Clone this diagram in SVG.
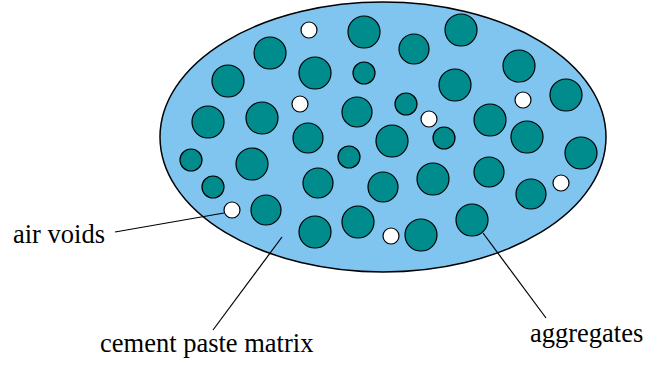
<svg xmlns="http://www.w3.org/2000/svg" width="645" height="365" viewBox="0 0 645 365">
<style>
.agg{fill:#008c8c;stroke:#000;stroke-width:1.2}
.void{fill:#fff;stroke:#000;stroke-width:1.2}
.lead{stroke:#000;stroke-width:1.2;fill:none}
</style>
<g id="matrix">
<ellipse cx="383" cy="137" rx="223" ry="135" fill="#80c4f0" stroke="#000" stroke-width="1.5"/>
</g>
<g id="aggregates">
<circle class="agg" cx="364" cy="32" r="16"/>
<circle class="agg" cx="461" cy="30" r="16"/>
<circle class="agg" cx="270" cy="53" r="16"/>
<circle class="agg" cx="414" cy="49" r="15"/>
<circle class="agg" cx="519" cy="66" r="16"/>
<circle class="agg" cx="228" cy="81" r="16"/>
<circle class="agg" cx="315" cy="73" r="16"/>
<circle class="agg" cx="364" cy="73" r="11"/>
<circle class="agg" cx="455" cy="85" r="16"/>
<circle class="agg" cx="566" cy="95" r="16"/>
<circle class="agg" cx="208" cy="122" r="16"/>
<circle class="agg" cx="262" cy="118" r="16"/>
<circle class="agg" cx="357" cy="112" r="15"/>
<circle class="agg" cx="406" cy="104" r="11"/>
<circle class="agg" cx="490" cy="120" r="16"/>
<circle class="agg" cx="308" cy="138" r="15"/>
<circle class="agg" cx="392" cy="141" r="16"/>
<circle class="agg" cx="444" cy="138" r="11"/>
<circle class="agg" cx="527" cy="137" r="16"/>
<circle class="agg" cx="581" cy="153" r="16"/>
<circle class="agg" cx="191" cy="160" r="11"/>
<circle class="agg" cx="252" cy="164" r="16"/>
<circle class="agg" cx="349" cy="157" r="11"/>
<circle class="agg" cx="433" cy="179" r="16"/>
<circle class="agg" cx="489" cy="172" r="15"/>
<circle class="agg" cx="213" cy="187" r="11"/>
<circle class="agg" cx="318" cy="183" r="15"/>
<circle class="agg" cx="383" cy="187" r="15"/>
<circle class="agg" cx="531" cy="194" r="15"/>
<circle class="agg" cx="266" cy="210" r="15"/>
<circle class="agg" cx="315" cy="232" r="16"/>
<circle class="agg" cx="358" cy="222" r="16"/>
<circle class="agg" cx="421" cy="235" r="16"/>
<circle class="agg" cx="472" cy="220" r="16"/>
</g>
<g id="voids">
<circle class="void" cx="309" cy="30" r="8"/>
<circle class="void" cx="300" cy="104" r="8"/>
<circle class="void" cx="429" cy="119" r="8"/>
<circle class="void" cx="523" cy="100" r="8"/>
<circle class="void" cx="561" cy="183" r="8"/>
<circle class="void" cx="232" cy="210" r="8"/>
<circle class="void" cx="391" cy="236" r="8"/>
</g>
<g id="connectors">
<line class="lead" x1="115" y1="232" x2="224" y2="213"/>
<line class="lead" x1="213" y1="330" x2="282" y2="237"/>
<line class="lead" x1="546" y1="318" x2="483" y2="233"/>
</g>
<g id="labels" font-family="'Liberation Serif', 'DejaVu Serif', serif" font-size="26.5" fill="#000">
<g id="label-air-voids"><text x="13" y="243">air voids</text></g>
<g id="label-cement"><text x="100" y="352">cement paste matrix</text></g>
<g id="label-aggregates"><text x="530" y="342">aggregates</text></g>
</g>
</svg>
